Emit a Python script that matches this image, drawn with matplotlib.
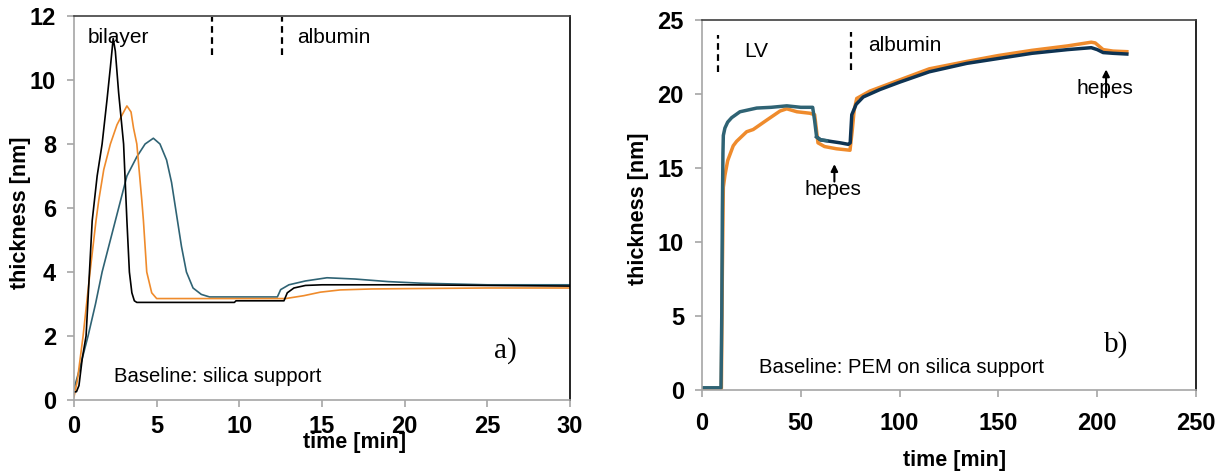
import matplotlib
matplotlib.use("Agg")
import matplotlib.pyplot as plt

plt.rcParams['font.family'] = ['Liberation Sans', 'DejaVu Sans']

# ---- panel a: bilayer formation on silica ----
a_black_t = [0, 0.15, 0.3, 0.5, 0.73, 1.1, 1.4, 1.7, 2.0, 2.2, 2.37, 2.5, 2.7, 3.0, 3.2, 3.35, 3.5, 3.65, 3.8,
             9.7, 9.8, 12.7, 12.9, 13.3, 14.0, 15.0, 20.0, 25.0, 30.0]
a_black_v = [0.25, 0.26, 0.45, 1.3, 2.0, 5.6, 7.0, 8.0, 9.4, 10.4, 11.3, 10.9, 9.6, 8.0, 5.6, 4.0, 3.35, 3.1, 3.05,
             3.05, 3.1, 3.1, 3.35, 3.5, 3.58, 3.6, 3.6, 3.58, 3.56]

a_orange_t = [0, 0.2, 0.55, 0.97, 1.33, 1.5, 1.8, 2.2, 2.6, 2.9, 3.2, 3.45, 3.6, 3.8, 4.1, 4.2, 4.4, 4.7, 5.0,
              12.8, 13.9, 14.9, 16.1, 18.0, 20.0, 25.0, 30.0]
a_orange_v = [0.1, 0.6, 2.0, 4.0, 5.6, 6.25, 7.2, 8.0, 8.6, 8.9, 9.19, 9.0, 8.5, 8.0, 6.25, 5.6, 4.0, 3.35, 3.17,
              3.17, 3.26, 3.37, 3.44, 3.47, 3.48, 3.5, 3.5]

a_teal_t = [0, 0.3, 0.85, 1.3, 1.7, 2.2, 2.7, 3.2, 3.8, 4.3, 4.8, 5.2, 5.6, 5.9, 6.2, 6.5, 6.8, 7.2, 7.7, 8.2,
            12.3, 12.5, 13.0, 14.0, 15.3, 17.0, 19.0, 21.0, 25.0, 30.0]
a_teal_v = [0.35, 0.9, 2.0, 3.0, 4.0, 5.0, 6.0, 7.0, 7.6, 8.0, 8.18, 8.0, 7.5, 6.8, 5.8, 4.8, 4.0, 3.5, 3.3, 3.22,
            3.22, 3.45, 3.6, 3.72, 3.82, 3.78, 3.7, 3.65, 3.6, 3.6]

a_xticks = [0, 5, 10, 15, 20, 25, 30]
a_yticks = [0, 2, 4, 6, 8, 10, 12]

# ---- panel b: LV on PEM ----
b_teal_t = [0, 9.6, 10.0, 10.3, 10.6, 10.8, 11.6, 13.0, 15.0, 19.2, 27.7, 35.0, 42.9, 50.0, 56.0, 57.0, 58.0, 60.0, 63.0]
b_teal_v = [0.15, 0.15, 5.0, 12.0, 16.0, 17.2, 17.7, 18.1, 18.4, 18.8, 19.05, 19.1, 19.2, 19.1, 19.1, 18.2, 17.1, 16.9, 16.85]

b_navy_t = [58.0, 60.0, 65.0, 70.0, 74.0, 75.0, 75.8, 78.0, 81.6, 90.0, 100.0, 115.0, 134.0, 150.0, 167.0, 185.0,
            197.0, 200.0, 203.0, 208.0, 215.0]
b_navy_v = [17.1, 16.9, 16.8, 16.7, 16.6, 16.7, 18.6, 19.3, 19.8, 20.3, 20.8, 21.5, 22.07, 22.4, 22.75, 23.0,
            23.13, 23.0, 22.8, 22.75, 22.7]

b_orange_t = [0, 9.8, 10.3, 10.8, 11.6, 13.0, 15.8, 17.5, 22.6, 25.9, 32.8, 39.5, 42.9, 48.0, 54.6, 57.0, 58.7,
              62.0, 68.0, 74.9, 76.0, 77.0, 78.3, 85.0, 95.0, 105.0, 115.0, 134.0, 150.0, 167.0, 185.0, 197.0,
              199.0, 203.0, 208.0, 215.0]
b_orange_v = [0.1, 0.1, 8.0, 13.7, 14.5, 15.5, 16.5, 16.8, 17.45, 17.6, 18.24, 18.85, 19.0, 18.8, 18.7, 18.6, 16.7,
              16.45, 16.3, 16.2, 17.5, 18.9, 19.7, 20.2, 20.7, 21.2, 21.7, 22.2, 22.6, 22.95, 23.25, 23.5,
              23.45, 23.0, 22.9, 22.86]

b_xticks = [0, 50, 100, 150, 200, 250]
b_yticks = [0, 5, 10, 15, 20, 25]

ORANGE = '#EF8B2C'
TEAL = '#2F6374'
NAVY = '#0E3352'
GRAY = '#A6A6A6'

fig = plt.figure(figsize=(12.18, 4.74), dpi=100)
W, H = 1218, 474


def frame(ax):
    ax.spines['left'].set_color(GRAY)
    ax.spines['bottom'].set_color(GRAY)
    ax.spines['top'].set_color('#404040')
    ax.spines['right'].set_color('black')
    for s in ax.spines.values():
        s.set_linewidth(1.2)
    ax.tick_params(axis='both', direction='out', length=5, width=1.2, color=GRAY,
                   labelsize=17)
    for lab in ax.get_xticklabels() + ax.get_yticklabels():
        lab.set_fontweight('bold')


# panel a
axa = fig.add_axes([74 / W, (H - 400) / H, 496 / W, 384 / H])
axa.plot(a_teal_t, a_teal_v, color=TEAL, lw=1.2)
axa.plot(a_orange_t, a_orange_v, color=ORANGE, lw=1.2)
axa.plot(a_black_t, a_black_v, color='black', lw=1.2)
axa.set_xlim(0, 30)
axa.set_ylim(0, 12)
axa.set_xticks(a_xticks)
axa.set_yticks(a_yticks)
frame(axa)
axa.tick_params(axis='x', pad=6)
axa.tick_params(axis='y', pad=8)
axa.set_xlabel('time [min]', fontsize=15.5, fontweight='bold')
axa.xaxis.set_label_coords(0.565, -0.083)
axa.set_ylabel('thickness [nm]', fontsize=15.5, fontweight='bold')
axa.yaxis.set_label_coords(-0.087, 0.487)
axa.vlines([8.33, 12.56], 10.78, 11.96, colors='black', linestyles=(0, (3, 2)), lw=1.6)
axa.text(0.85, 11.16, 'bilayer', fontsize=15, va='baseline')
axa.text(13.49, 11.16, 'albumin', fontsize=15, va='baseline')
axa.text(2.44, 0.57, 'Baseline: silica support', fontsize=14.6, va='baseline')
axa.text(25.4, 1.31, 'a)', fontsize=21, va='baseline', family='Liberation Serif')

# panel b
axb = fig.add_axes([702 / W, (H - 390) / H, 494 / W, 370 / H])
axb.plot(b_orange_t, b_orange_v, color=ORANGE, lw=2.5)
axb.plot(b_navy_t, b_navy_v, color=NAVY, lw=2.5)
axb.plot(b_teal_t, b_teal_v, color=TEAL, lw=2.5)
axb.set_xlim(0, 250)
axb.set_ylim(0, 25)
axb.set_xticks(b_xticks)
axb.set_yticks(b_yticks)
frame(axb)
axb.tick_params(axis='x', pad=11)
axb.tick_params(axis='y', pad=8)
axb.set_xlabel('time [min]', fontsize=15.5, fontweight='bold')
axb.xaxis.set_label_coords(0.512, -0.162)
axb.set_ylabel('thickness [nm]', fontsize=15.5, fontweight='bold')
axb.yaxis.set_label_coords(-0.107, 0.49)
axb.vlines([8.27, 75.2], [21.5, 21.6], [24.0, 24.2], colors='black', linestyles=(0, (3, 2)), lw=1.6)
axb.text(21.2, 22.52, 'LV', fontsize=15, va='baseline')
axb.text(84, 22.93, 'albumin', fontsize=15, va='baseline')
axb.text(66.4, 13.2, 'hepes', fontsize=15, va='baseline', ha='center')
axb.annotate('', xy=(67, 15.45), xytext=(67, 13.9),
             arrowprops=dict(arrowstyle='-|>', color='black', lw=1.5, mutation_scale=10))
axb.text(204, 20.0, 'hepes', fontsize=15, va='baseline', ha='center')
axb.annotate('', xy=(204.5, 21.85), xytext=(204.5, 19.6),
             arrowprops=dict(arrowstyle='-|>', color='black', lw=1.5, mutation_scale=10))
axb.text(29, 1.12, 'Baseline: PEM on silica support', fontsize=14.6, va='baseline')
axb.text(203.6, 2.57, 'b)', fontsize=21, va='baseline', family='Liberation Serif')

fig.savefig('out.png', dpi=100)
